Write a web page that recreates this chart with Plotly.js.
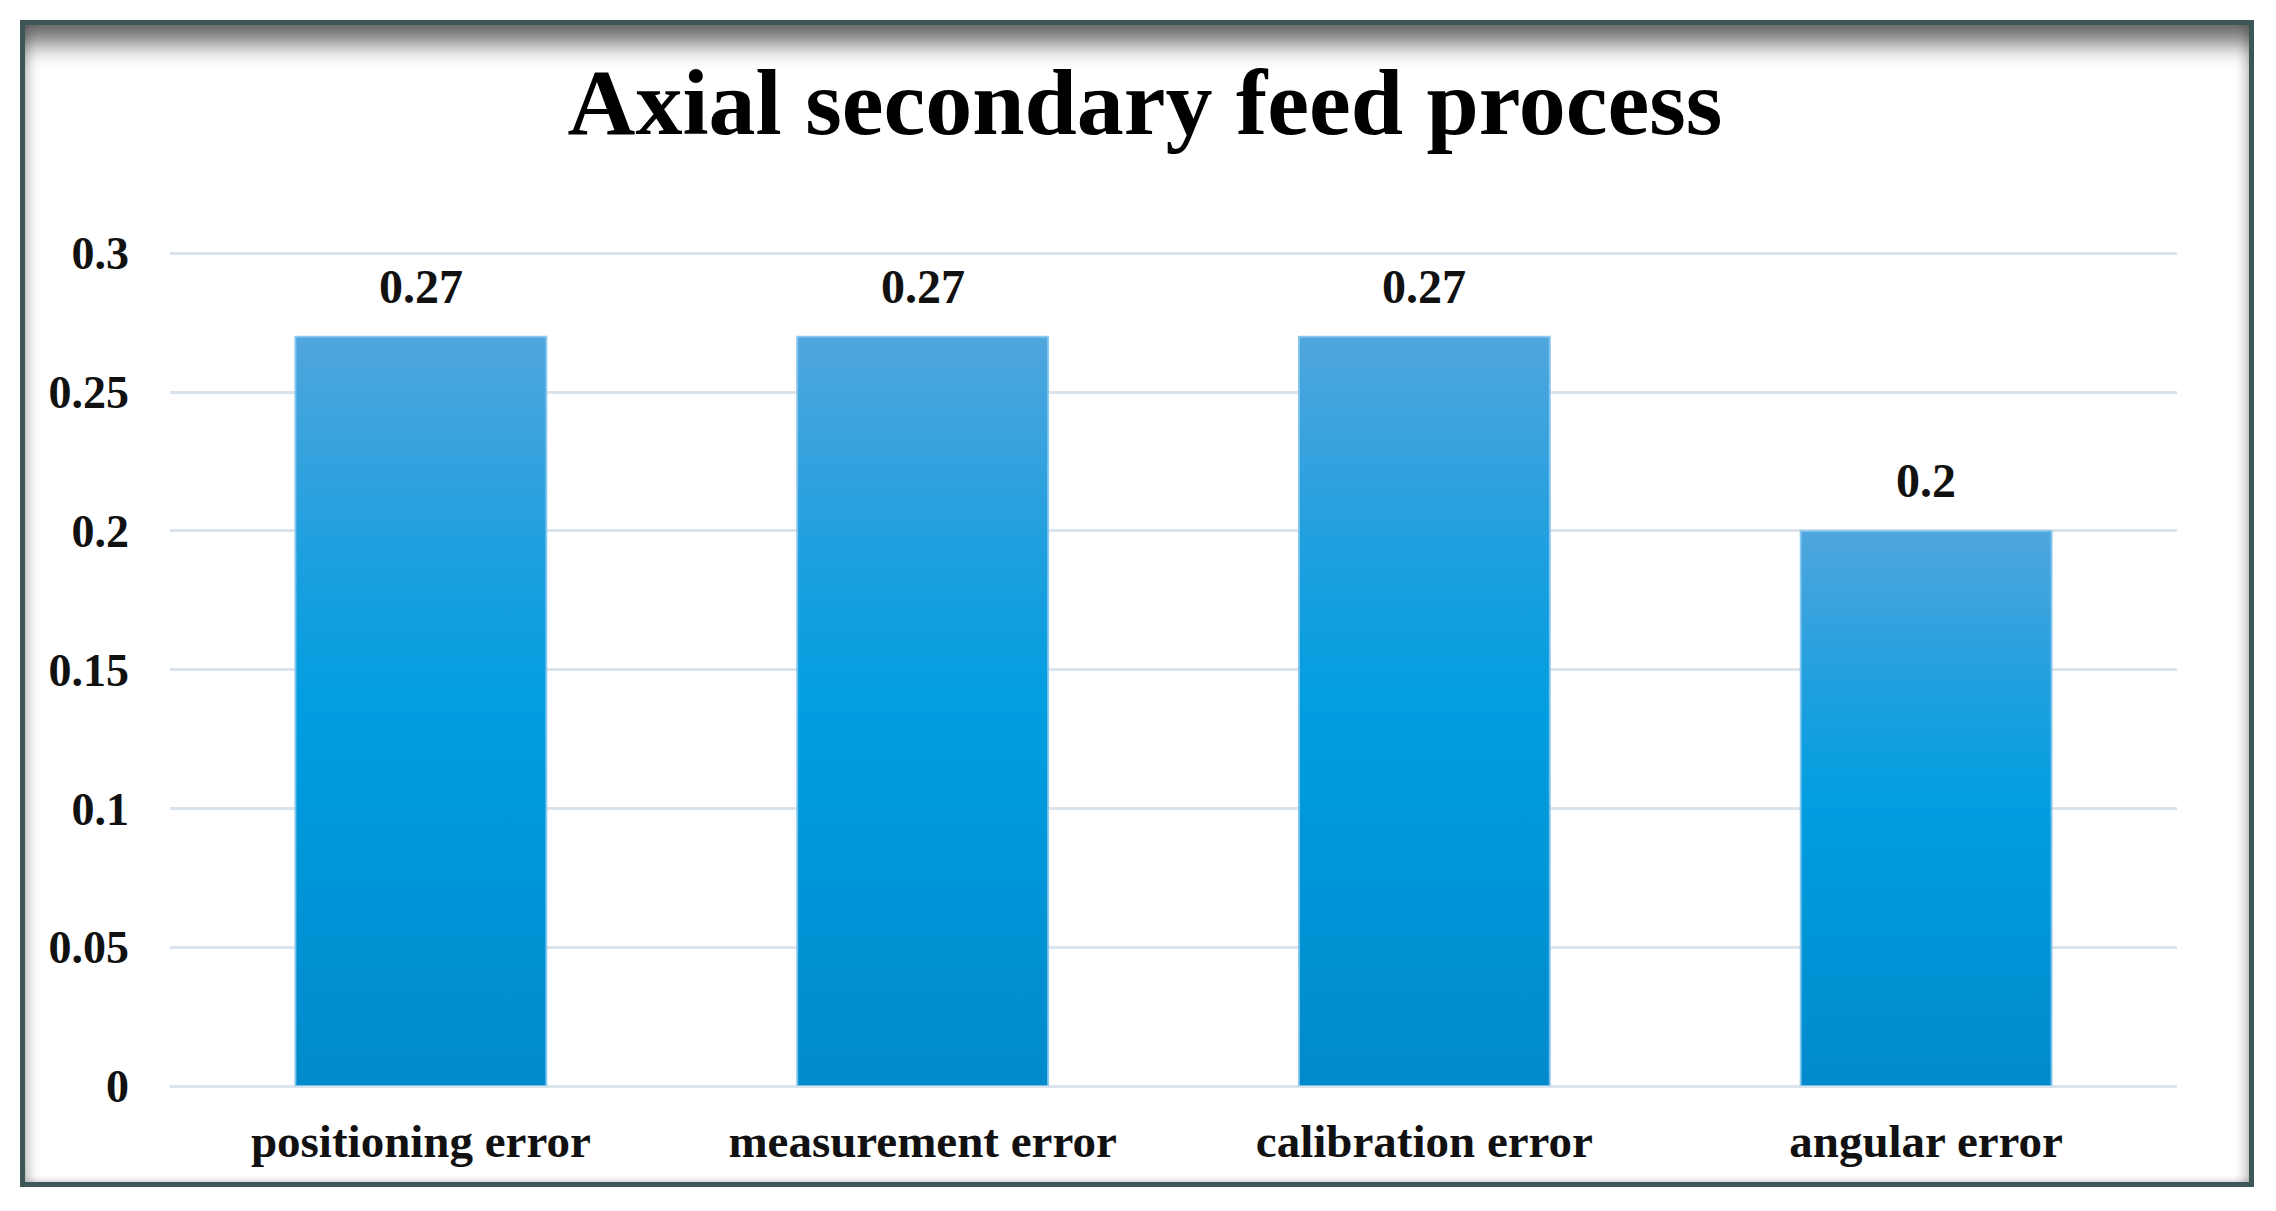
<!DOCTYPE html>
<html>
<head>
<meta charset="utf-8">
<script src="https://cdn.plot.ly/plotly-3.0.1.min.js"></script>
<style>
  html, body { margin: 0; padding: 0; background: #ffffff; width: 2276px; height: 1211px; overflow: hidden; }
  #frame {
    position: absolute; left: 20px; top: 20px; width: 2234px; height: 1167px;
    box-sizing: border-box; border: 5px solid #3d5658; background: #ffffff;
    box-shadow: inset 0 32px 24px -14px rgba(0,0,0,0.6),
                inset 12px 0 12px -9px rgba(0,0,0,0.22),
                inset -12px 0 12px -9px rgba(0,0,0,0.22),
                inset 0 -6px 6px -4px rgba(0,0,0,0.15);
  }
  #chart { position: absolute; left: 0; top: 0; width: 2276px; height: 1211px; }
</style>
</head>
<body>
<div id="frame"></div>
<div id="chart"></div>
<script>
const chartTitle = "Axial secondary feed process";
const categories = ["positioning error", "measurement error", "calibration error", "angular error"];
const values = [0.27, 0.27, 0.27, 0.2];
const valueLabels = ["0.27", "0.27", "0.27", "0.2"];
const yTickValues = [0, 0.05, 0.1, 0.15, 0.2, 0.25, 0.3];
const yTickLabels = ["0", "0.05", "0.1", "0.15", "0.2", "0.25", "0.3"];

const serif = "Liberation Serif, Times New Roman, serif";

const trace = {
  type: "bar",
  x: categories,
  y: values,
  marker: { color: "#009ade", line: { color: "rgba(130,196,238,0.9)", width: 2 } },
  hoverinfo: "x+y"
};

const annotations = categories.map((c, i) => ({
  x: c, y: values[i], xref: "x", yref: "y",
  text: "<b>" + valueLabels[i] + "</b>",
  showarrow: false, yanchor: "bottom", yshift: 22,
  font: { family: serif, size: 48, color: "#111111" }
}));

const layout = {
  width: 2276, height: 1211,
  paper_bgcolor: "rgba(0,0,0,0)", plot_bgcolor: "rgba(0,0,0,0)",
  margin: { l: 170, r: 99, t: 252, b: 125 },
  bargap: 0.5,
  showlegend: false,
  title: {
    text: "<b>" + chartTitle + "</b>",
    font: { family: serif, size: 94, color: "#000000" },
    x: 1145 / 2276, xanchor: "center", xref: "container",
    y: 1 - 101 / 1211, yanchor: "middle", yref: "container"
  },
  xaxis: {
    type: "category",
    tickfont: { family: serif, size: 47, color: "#111111" },
    tickvals: categories,
    ticktext: categories.map(c => "<b>" + c + "</b>"),
    showgrid: false, zeroline: false, showline: false, ticks: "",
    ticklabelstandoff: 23
  },
  yaxis: {
    range: [0, 0.3005],
    tickvals: yTickValues,
    ticktext: yTickLabels.map(t => "<b>" + t + "</b>"),
    tickfont: { family: serif, size: 46, color: "#111111" },
    showgrid: true, gridcolor: "#dbe3ec", gridwidth: 3,
    zeroline: true, zerolinecolor: "#dbe3ec", zerolinewidth: 3,
    showline: false, ticks: "",
    ticklabelstandoff: 40
  },
  annotations: annotations
};

Plotly.newPlot("chart", [trace], layout, { displayModeBar: false, staticPlot: true }).then(gd => {
  const svgNS = "http://www.w3.org/2000/svg";
  const svg = gd.querySelector(".main-svg");
  let defs = svg.querySelector("defs");
  if (!defs) { defs = document.createElementNS(svgNS, "defs"); svg.insertBefore(defs, svg.firstChild); }
  const grad = document.createElementNS(svgNS, "linearGradient");
  grad.setAttribute("id", "barGrad");
  grad.setAttribute("x1", "0"); grad.setAttribute("y1", "0");
  grad.setAttribute("x2", "0"); grad.setAttribute("y2", "1");
  [["0%", "#50a6dd"], ["30%", "#1c9fdf"], ["50%", "#009ee0"], ["100%", "#008acb"]].forEach(([o, c]) => {
    const s = document.createElementNS(svgNS, "stop");
    s.setAttribute("offset", o); s.setAttribute("stop-color", c);
    grad.appendChild(s);
  });
  defs.appendChild(grad);
  gd.querySelectorAll(".bars .point path").forEach(p => { p.style.fill = "url(#barGrad)"; });
});
</script>
</body>
</html>
